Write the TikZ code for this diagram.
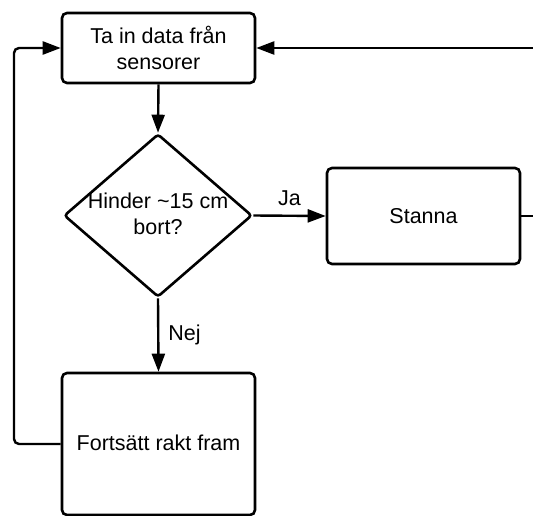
\documentclass[tikz,border=0pt]{standalone}
\usepackage{fontspec}
\setmainfont{Liberation Sans}
\usetikzlibrary{arrows.meta,shapes.geometric}
\begin{document}
\begin{tikzpicture}[x=1pt,y=-1pt,
  box/.style={draw,line width=2.6pt,rounded corners=5pt,inner sep=0pt,minimum width=193pt},
  conn/.style={line width=2.4pt},
  arr/.style={conn,-{Triangle[length=18pt,width=13pt]}},
  txt/.style={font=\fontsize{21.5pt}{26pt}\selectfont,align=center,inner sep=0pt},
  lbl/.style={font=\fontsize{21.5pt}{26pt}\selectfont,inner sep=0pt}]
\useasboundingbox (0,0) rectangle (533,516);
\node[box,minimum height=70pt] (t) at (158.5,48) {};
\node[txt] at (t.center) {Ta in data från\\sensorer};
\node[draw,line width=2.6pt,shape=diamond,rounded corners=3pt,inner sep=0pt,minimum width=188pt,minimum height=163pt] (d) at (158,215.5) {};
\node[txt] at (158,214) {Hinder \textasciitilde15 cm\\bort?};
\node[box,minimum height=96pt] (s) at (423.5,216) {};
\node[txt] at (s.center) {Stanna};
\node[box,minimum height=142pt] (f) at (158.5,444) {};
\node[txt] at (158.5,443) {Fortsätt rakt fram};
\coordinate (r1) at (534,48);
\coordinate (r2) at (534,216);
\coordinate (lc) at (14,0);
\draw[arr] (r1) -- (t.east);
\draw[conn] (s.east) -- (r2);
\draw[arr] (t.south) -- (d.north);
\draw[arr] (d.east) -- (s.west) node[lbl,pos=0.5,above=9pt] (ja) {Ja};
\draw[arr] (d.south) -- (f.north) node[lbl,pos=0.5,right=9pt] (nej) {Nej};
\draw[arr,rounded corners=5pt] (f.west) -- (f.west -| lc) -- (t.west -| lc) -- (t.west);
\end{tikzpicture}
\end{document}
